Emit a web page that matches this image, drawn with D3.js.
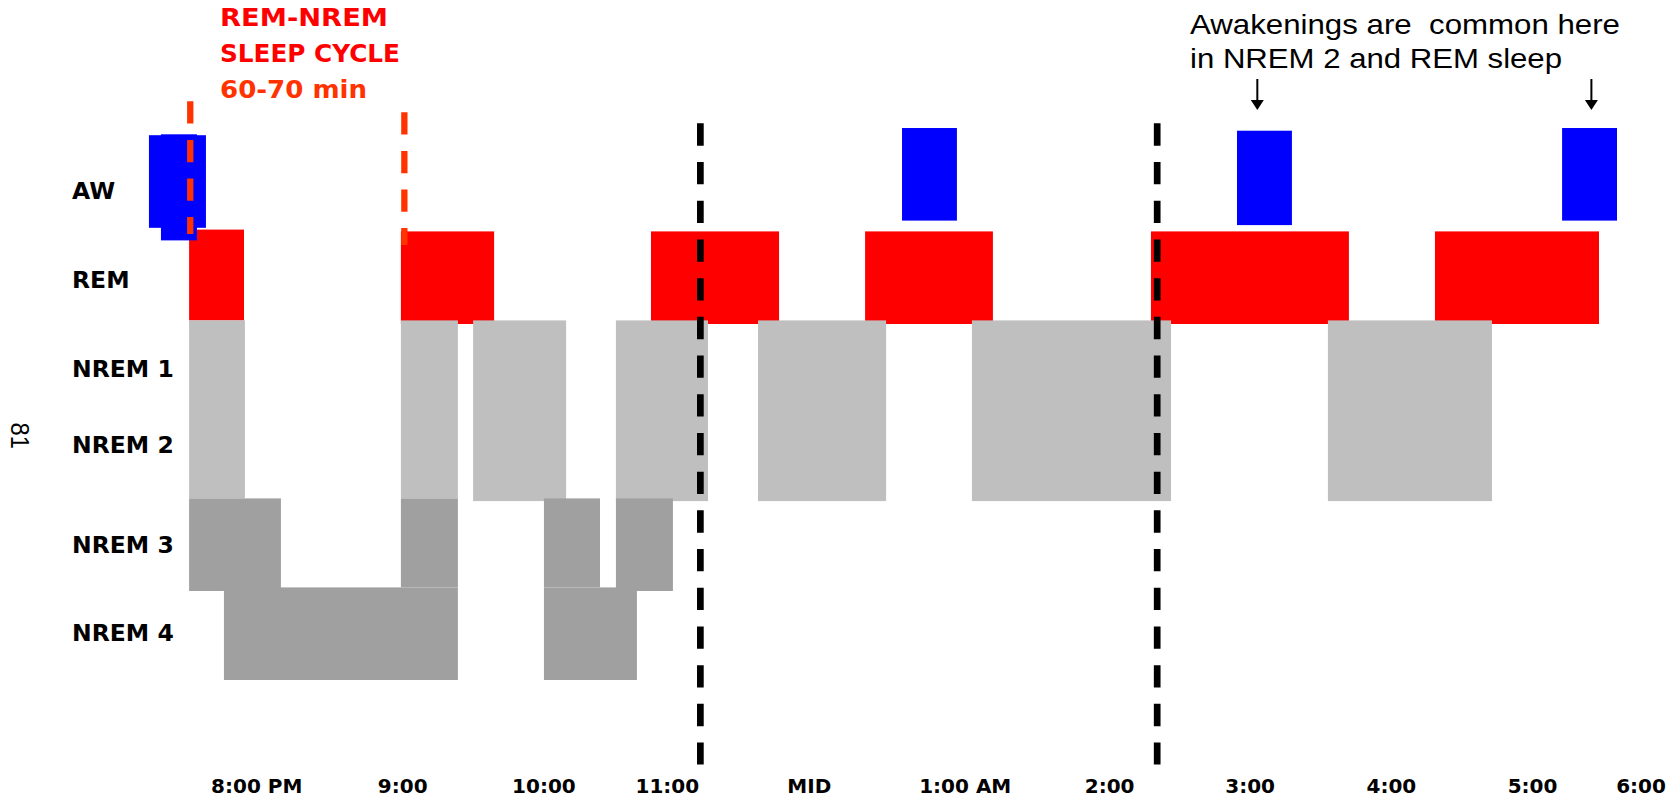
<!DOCTYPE html>
<html><head><meta charset="utf-8">
<script src="https://cdn.jsdelivr.net/npm/d3@7"></script>
<style>html,body{margin:0;padding:0;background:#fff;overflow:hidden}</style>
</head><body><svg id="c" width="1668" height="801"></svg>
<script>
// ---- data (time in minutes since 7:00 PM, vertical position in stage levels: 0 = top of AW band) ----
const stages = ["AW", "REM", "NREM 1", "NREM 2", "NREM 3", "NREM 4"];
const stageLabelPos = [0.65, 1.64, 2.63, 3.48, 4.59, 5.57];
const tickLabels = ["8:00 PM", "9:00", "10:00", "11:00", "MID", "1:00 AM", "2:00", "3:00", "4:00", "5:00", "6:00"];
const tickMinutes = [60, 123.3, 184.5, 238.0, 299.5, 367.1, 429.7, 490.6, 551.8, 613.0, 660];
// blocks: [start, end, topLevel, bottomLevel]
const awakeBlocks = [[13.3, 38.0, -0.06, 0.97], [18.5, 34.1, -0.07, 1.11], [339.7, 363.5, -0.14, 0.89],
                     [484.9, 508.7, -0.11, 0.94], [625.8, 649.6, -0.14, 0.89]];
const remBlocks = [[30.7, 54.5, 0.99, 2.0], [122.5, 162.9, 1.01, 2.04], [230.9, 286.4, 1.01, 2.04],
                   [323.7, 379.1, 1.01, 2.04], [447.6, 533.4, 1.01, 2.04], [570.7, 641.8, 1.01, 2.04]];
const nrem12Blocks = [[30.7, 54.9, 2.0, 3.98], [122.5, 147.2, 2.0, 3.98], [153.8, 194.1, 2.0, 4.01],
                      [215.7, 255.6, 2.0, 4.01], [277.3, 332.8, 2.0, 4.01], [370.0, 456.3, 2.0, 4.01],
                      [524.3, 595.4, 2.0, 4.01]];
const nrem3Blocks = [[30.7, 70.5, 3.98, 5.01], [122.5, 147.2, 3.98, 4.97], [184.5, 208.8, 3.98, 4.97],
                     [215.7, 240.4, 3.98, 5.01]];
const nrem4Blocks = [[45.8, 147.2, 4.97, 6.0], [184.5, 224.8, 4.97, 6.0]];
const cycleMarks = [[31.2, -0.437, 1.039], [124.0, -0.315, 1.161]];   // orange dashed: [time, fromLevel, toLevel]
const midnightMarks = [[252.3, -0.192, 6.94], [450.3, -0.192, 6.94]]; // black dashed
const arrowMarks = [[493.7, -0.685, -0.34], [638.5, -0.685, -0.34]];
const titleLines = ["REM-NREM", "SLEEP CYCLE", "60-70 min"];
const noteLines = ["Awakenings are  common here", "in NREM 2 and REM sleep"];

// ---- scales ----
const x = d3.scaleLinear().domain([60, 660]).range([256.7, 1641]);
const y = d3.scaleLinear().domain([0, 6]).range([140.6, 680]);
const svg = d3.select("#c");

function blocks(data, color) {
  svg.append("g").selectAll("rect").data(data).join("rect")
    .attr("x", d => x(d[0])).attr("width", d => x(d[1]) - x(d[0]))
    .attr("y", d => y(d[2])).attr("height", d => y(d[3]) - y(d[2]))
    .attr("fill", color);
}
blocks(remBlocks, "#FF0000");
blocks(awakeBlocks, "#0000FF");
blocks(nrem12Blocks, "#BFBFBF");
blocks(nrem3Blocks, "#A0A0A0");
blocks(nrem4Blocks, "#A0A0A0");

svg.append("g").selectAll("line").data(cycleMarks).join("line")
  .attr("x1", d => x(d[0])).attr("x2", d => x(d[0]))
  .attr("y1", d => y(d[1])).attr("y2", d => y(d[2]))
  .attr("stroke", "#FF3300").attr("stroke-width", 6.3).attr("stroke-dasharray", "22.3,16.3");

svg.append("g").selectAll("line").data(midnightMarks).join("line")
  .attr("x1", d => x(d[0])).attr("x2", d => x(d[0]))
  .attr("y1", d => y(d[1])).attr("y2", d => y(d[2]))
  .attr("stroke", "#000").attr("stroke-width", 6.7).attr("stroke-dasharray", "22.3,16.4");

const ag = svg.append("g").selectAll("g").data(arrowMarks).join("g");
ag.append("line")
  .attr("x1", d => x(d[0])).attr("x2", d => x(d[0]))
  .attr("y1", d => y(d[1])).attr("y2", d => y(d[2]) - 8)
  .attr("stroke", "#000").attr("stroke-width", 2);
ag.append("path")
  .attr("d", d => `M${x(d[0]) - 6.5},${y(d[2]) - 10}L${x(d[0]) + 6.5},${y(d[2]) - 10}L${x(d[0])},${y(d[2])}Z`)
  .attr("fill", "#000");

// stage labels
svg.append("g").selectAll("text").data(stages).join("text")
  .attr("x", 72).attr("y", (d, i) => y(stageLabelPos[i]))
  .attr("font-family", "DejaVu Sans").attr("font-weight", "bold").attr("font-size", 23.5)
  .attr("fill", "#000").text(d => d);

// time labels
svg.append("g").selectAll("text").data(tickLabels).join("text")
  .attr("x", (d, i) => x(tickMinutes[i])).attr("y", 793)
  .attr("text-anchor", "middle")
  .attr("font-family", "DejaVu Sans").attr("font-weight", "bold").attr("font-size", 20)
  .attr("fill", "#000").text(d => d);

// title
const titleColors = ["#FF0000", "#FF0000", "#FF3300"];
const titleWidths = [168, 180, 147];
svg.append("g").selectAll("text").data(titleLines).join("text")
  .attr("x", 220).attr("y", (d, i) => 26 + i * 36)
  .attr("font-family", "DejaVu Sans").attr("font-weight", "bold").attr("font-size", 25)
  .attr("textLength", (d, i) => titleWidths[i]).attr("lengthAdjust", "spacingAndGlyphs")
  .attr("fill", (d, i) => titleColors[i]).text(d => d);

// note
const noteWidths = [430, 372];
svg.append("g").selectAll("text").data(noteLines).join("text")
  .attr("x", 1190).attr("y", (d, i) => 34 + i * 34)
  .attr("font-family", "Liberation Sans").attr("font-size", 28)
  .attr("textLength", (d, i) => noteWidths[i]).attr("lengthAdjust", "spacingAndGlyphs")
  .attr("xml:space", "preserve").style("white-space", "pre")
  .attr("fill", "#000").text(d => d);

// rotated page number
svg.append("text")
  .attr("transform", "translate(10.5,422.5) rotate(90)")
  .attr("font-family", "Liberation Sans").attr("font-size", 26)
  .attr("textLength", 26.5).attr("lengthAdjust", "spacingAndGlyphs")
  .attr("fill", "#000").text("81");
</script>
</body></html>
